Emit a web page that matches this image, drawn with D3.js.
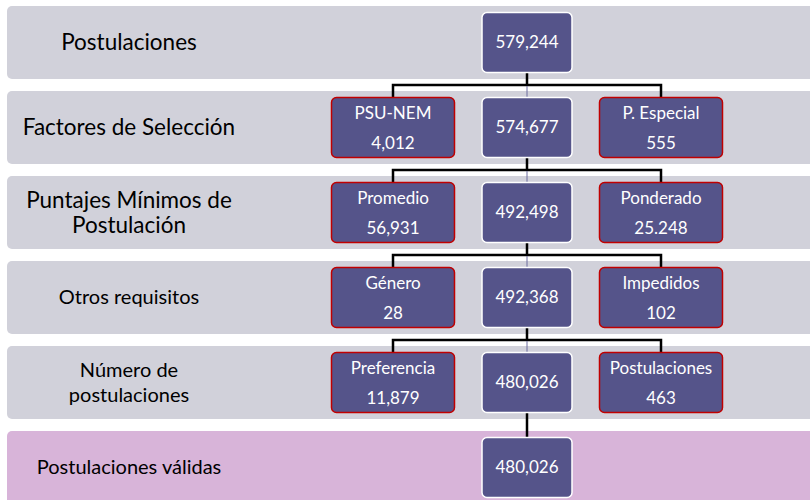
<!DOCTYPE html>
<html>
<head>
<meta charset="utf-8">
<script src="https://cdn.jsdelivr.net/npm/d3@7"></script>
<style>
  body { margin: 0; background: #fff; }
  svg { display: block; font-family: Lato, 'Open Sans', sans-serif; }
</style>
</head>
<body>
<svg id="chart"></svg>
<script>
// stage labels, one per row (\n = line break)
const stages = [
  'Postulaciones',
  'Factores de Selección',
  'Puntajes Mínimos de\nPostulación',
  'Otros requisitos',
  'Número de\npostulaciones',
  'Postulaciones válidas'
];
const totals = ['579,244', '574,677', '492,498', '492,368', '480,026', '480,026'];
const leftNames = [null, 'PSU-NEM', 'Promedio', 'Género', 'Preferencia', null];
const leftValues = [null, '4,012', '56,931', '28', '11,879', null];
const rightNames = [null, 'P. Especial', 'Ponderado', 'Impedidos', 'Postulaciones', null];
const rightValues = [null, '555', '25.248', '102', '463', null];

const width = 810;
const height = 500;

// label font size per row (the lower rows use a smaller type)
const labelSize = i => (i < 3 ? 22.5 : 20);

const svg = d3.select('#chart').attr('width', width).attr('height', height);

const y = d3
  .scaleBand()
  .domain(d3.range(stages.length))
  .range([6, 504])
  .paddingInner(0.141);

const x = d3.scalePoint().domain(['left', 'center', 'right']).range([393, 661]);

const boxW = { left: 123, center: 90, right: 123 };
const boxH = 60;
const boxTop = i => y(i) + 6.5;

// background bands
svg
  .selectAll('.band')
  .data(stages)
  .enter()
  .append('rect')
  .classed('band', true)
  .attr('x', 7)
  .attr('y', (d, i) => y(i))
  .attr('width', width + 20)
  .attr('height', y.bandwidth())
  .attr('rx', 5)
  .attr('fill', (d, i) => (i === stages.length - 1 ? '#d8b4d9' : '#d1d1da'));

// stage labels
const labels = svg
  .selectAll('.stage')
  .data(stages)
  .enter()
  .append('text')
  .classed('stage', true)
  .attr('x', 129)
  .attr('font-size', (d, i) => labelSize(i) + 'px')
  .attr('fill', '#000')
  .style('text-anchor', 'middle');

labels.each(function (d, i) {
  const lines = d.split('\n');
  const lh = 25;
  const cy = y(i) + y.bandwidth() / 2 - ((lines.length - 1) * lh) / 2;
  d3.select(this)
    .selectAll('tspan')
    .data(lines)
    .enter()
    .append('tspan')
    .attr('x', 129)
    .attr('y', (l, k) => cy + k * lh)
    .attr('dy', '0.35em')
    .text(l => l);
});

// connectors
const links = svg.append('g');
for (let i = 0; i < stages.length - 1; i++) {
  const y0 = boxTop(i) + boxH;
  const y1 = boxTop(i + 1);
  const mid = (y0 + y1) / 2;
  const hasSides = leftNames[i + 1] !== null;
  if (hasSides) {
    links
      .append('path')
      .attr(
        'd',
        'M' + x('center') + ',' + y0 + 'V' + mid +
        'M' + x('left') + ',' + y1 + 'V' + mid + 'H' + x('right') + 'V' + y1
      )
      .attr('fill', 'none')
      .attr('stroke', '#000')
      .attr('stroke-width', 2.5);
    links
      .append('line')
      .attr('x1', x('center'))
      .attr('x2', x('center'))
      .attr('y1', mid + 1)
      .attr('y2', y1)
      .attr('stroke', '#6d6d9e')
      .attr('stroke-width', 1);
  } else {
    links
      .append('line')
      .attr('x1', x('center'))
      .attr('x2', x('center'))
      .attr('y1', y0)
      .attr('y2', y1)
      .attr('stroke', '#000')
      .attr('stroke-width', 2.5);
  }
}

// boxes
const boxes = [];
stages.forEach((s, i) => {
  boxes.push({ row: i, col: 'center', lines: [totals[i]] });
  if (leftNames[i] !== null) {
    boxes.push({ row: i, col: 'left', lines: [leftNames[i], leftValues[i]] });
    boxes.push({ row: i, col: 'right', lines: [rightNames[i], rightValues[i]] });
  }
});

const box = svg
  .selectAll('.box')
  .data(boxes)
  .enter()
  .append('g')
  .classed('box', true)
  .attr('transform', d => 'translate(' + x(d.col) + ',' + boxTop(d.row) + ')');

box
  .append('rect')
  .attr('x', d => -boxW[d.col] / 2)
  .attr('y', 0)
  .attr('width', d => boxW[d.col])
  .attr('height', boxH)
  .attr('rx', 5)
  .attr('fill', '#55548a')
  .attr('stroke', d => (d.col === 'center' ? '#ffffff' : '#c00000'))
  .attr('stroke-width', 1.5);

box.each(function (d) {
  const ys = d.lines.length === 1 ? [boxH / 2] : [16, 45.5];
  d3.select(this)
    .selectAll('text')
    .data(d.lines)
    .enter()
    .append('text')
    .attr('x', 0)
    .attr('y', (l, k) => ys[k])
    .attr('dy', '0.35em')
    .attr('font-size', '17px')
    .attr('fill', '#fff')
    .style('text-anchor', 'middle')
    .text(l => l);
});
</script>
</body>
</html>
